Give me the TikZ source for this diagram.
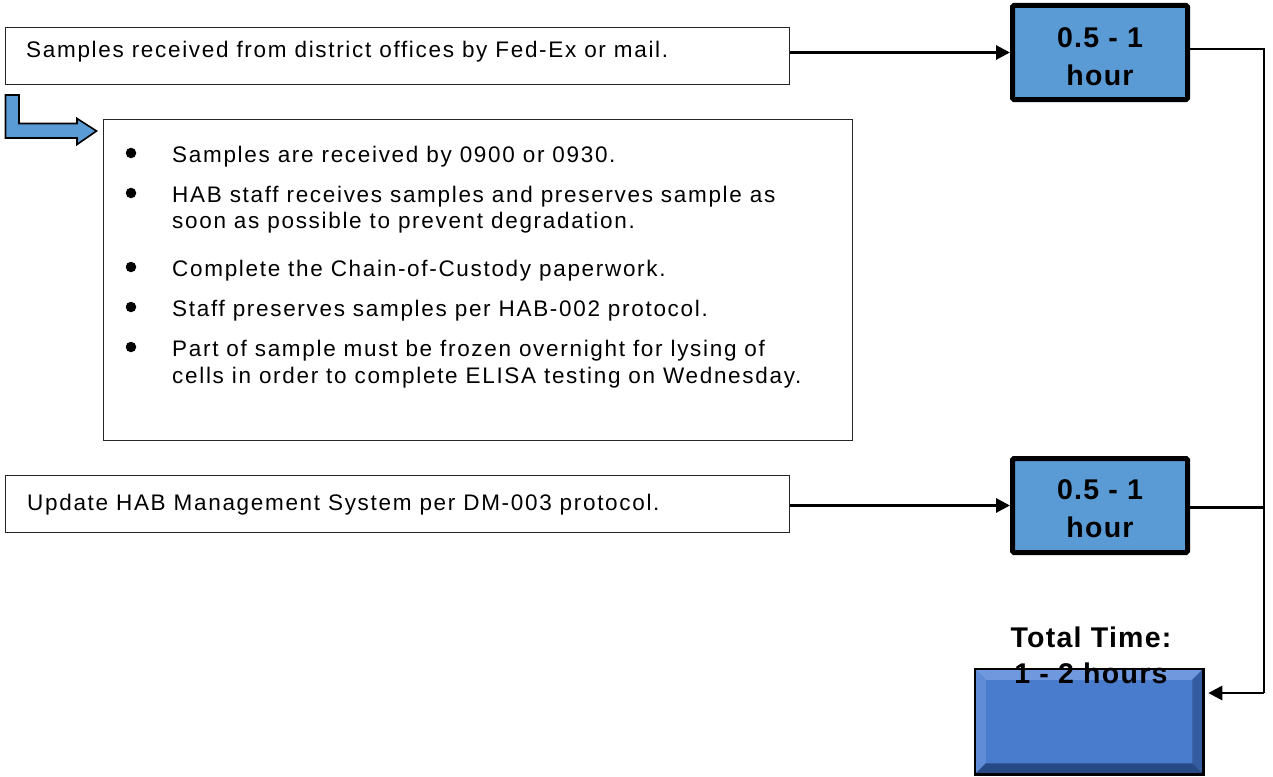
\documentclass[tikz,border=0pt]{standalone}
\usepackage{fontspec}
\setmainfont{Liberation Sans}
\newfontfamily\bodyfont[LetterSpace=7.5]{Liberation Sans}
\newfontfamily\headfont[LetterSpace=4.5]{Liberation Sans}
\usetikzlibrary{arrows.meta}
\definecolor{hblue}{RGB}{91,155,213}
\definecolor{tface}{RGB}{74,124,206}
\definecolor{tlight}{RGB}{112,152,222}
\definecolor{tlight2}{RGB}{96,140,215}
\definecolor{tdark}{RGB}{52,92,160}
\definecolor{tdark2}{RGB}{40,74,132}
\tikzset{
  x=1pt, y=-1pt,
  tbox/.style={draw=black!85, line width=1.3pt, fill=white, anchor=north west, inner sep=0pt},
  hbox/.style={draw=black, line width=5pt, fill=hblue, rounded corners=1.5pt, minimum width=175pt, minimum height=94pt, inner sep=0pt},
  htxt/.style={font=\headfont\fontsize{28.5}{35}\selectfont\bfseries, anchor=base, inner sep=0pt},
  btxt/.style={font=\bodyfont\fontsize{22.5}{27}\selectfont, anchor=base west, inner sep=0pt},
  conn/.style={line width=2.8pt, draw=black},
  arr/.style={conn, -{Triangle[length=14pt,width=14pt]}},
  dot/.style={circle, fill=black, minimum size=10.5pt, inner sep=0pt},
}
\begin{document}
\begin{tikzpicture}
\useasboundingbox (0,0) rectangle (1273,776);
% top text box
\node[tbox, minimum width=784pt, minimum height=57pt] (b1) at (5,27) {};
\node[btxt] (t1) at (26,57) {Samples received from district offices by Fed-Ex or mail.};
% bullet box
\node[tbox, minimum width=749pt, minimum height=321pt] (bl) at (103,119) {};
\node[dot] (d1) at (131,153) {};
\node[dot] (d2) at (131,193) {};
\node[dot] (d3) at (131,267) {};
\node[dot] (d4) at (131,307) {};
\node[dot] (d5) at (131,347) {};
\node[btxt] (l1) at (172,162) {Samples are received by 0900 or 0930.};
\node[btxt] (l2) at (172,202) {HAB staff receives samples and preserves sample as};
\node[btxt] (l3) at (172,228) {soon as possible to prevent degradation.};
\node[btxt] (l4) at (172,276) {Complete the Chain-of-Custody paperwork.};
\node[btxt] (l5) at (172,316) {Staff preserves samples per HAB-002 protocol.};
\node[btxt] (l6) at (172,356) {Part of sample must be frozen overnight for lysing of};
\node[btxt] (l7) at (172,383) {cells in order to complete ELISA testing on Wednesday.};
% bent arrow
\filldraw[fill=hblue, draw=black, line width=1.6pt, line join=miter]
  (5.5,95) -- (19,95) -- (19,123.5) -- (77,123.5) -- (77,118.5) -- (96.5,131) -- (77,144.5) -- (77,138) -- (5.5,138) -- cycle;
% lower text box
\node[tbox, minimum width=784pt, minimum height=57pt] (b3) at (5,475) {};
\node[btxt] (t3) at (27,510) {Update HAB Management System per DM-003 protocol.};
% hour boxes
\node[hbox] (h1) at (1100,52.5) {};
\node[htxt] (h1a) at (1100,48) {0.5 - 1};
\node[htxt] (h1b) at (1100,85) {hour};
\node[hbox] (h2) at (1100,505.5) {};
\node[htxt] (h2a) at (1100,499) {0.5 - 1};
\node[htxt] (h2b) at (1100,537) {hour};
% total box (bevelled)
\node[draw=black, line width=2.5pt, fill=tface, minimum width=226pt, minimum height=103pt, inner sep=0pt] (tot) at (1089,721.5) {};
\fill[tlight] ([shift={(1.25pt,-1.25pt)}]tot.north west) -- ([shift={(-1.25pt,-1.25pt)}]tot.north east) -- ([shift={(-11pt,-11pt)}]tot.north east) -- ([shift={(11pt,-11pt)}]tot.north west) -- cycle;
\fill[tlight2] ([shift={(1.25pt,-1.25pt)}]tot.north west) -- ([shift={(11pt,-11pt)}]tot.north west) -- ([shift={(11pt,11pt)}]tot.south west) -- ([shift={(1.25pt,1.25pt)}]tot.south west) -- cycle;
\fill[tdark] ([shift={(-1.25pt,-1.25pt)}]tot.north east) -- ([shift={(-11pt,-11pt)}]tot.north east) -- ([shift={(-11pt,11pt)}]tot.south east) -- ([shift={(-1.25pt,1.25pt)}]tot.south east) -- cycle;
\fill[tdark2] ([shift={(1.25pt,1.25pt)}]tot.south west) -- ([shift={(11pt,11pt)}]tot.south west) -- ([shift={(-11pt,11pt)}]tot.south east) -- ([shift={(-1.25pt,1.25pt)}]tot.south east) -- cycle;
\draw[black, line width=2.5pt] (tot.north west) rectangle (tot.south east);
\node[htxt] (tt1) at (1091,647) {Total Time:};
\node[htxt] (tt2) at (1091,683) {1 - 2 hours};
% connectors
\coordinate (rt) at (1264,693);
\draw[arr] (b1.east |- h1.center) -- (h1.west);
\draw[arr] (b3.east |- h2.center) -- (h2.west);
\draw[conn] ([yshift=3.5pt]h1.east) -| (rt);
\draw[conn] ([yshift=-2pt]h2.east) -- ([yshift=-2pt]h2.east -| rt);
\draw[arr, shorten >=5pt] (rt) -- (rt -| tot.east);
\end{tikzpicture}
\end{document}
